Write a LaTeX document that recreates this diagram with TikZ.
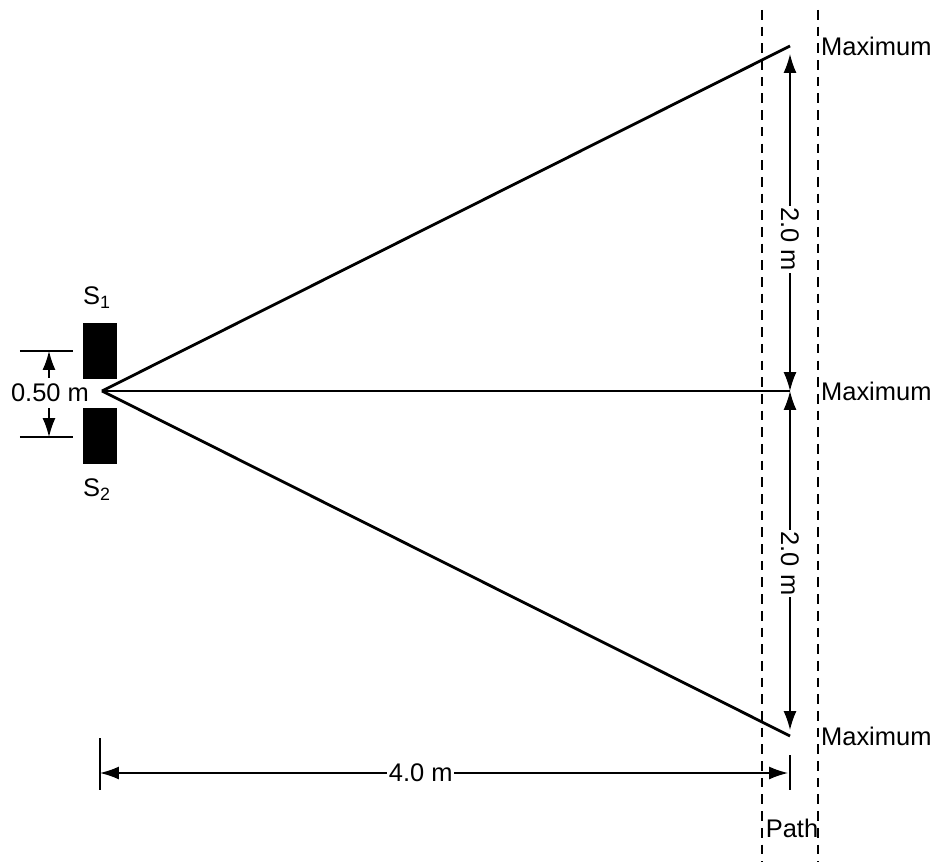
\documentclass[tikz,border=0pt]{standalone}
\usepackage{fontspec}
\setmainfont{Liberation Sans}
\usepackage{tikz}
\tikzset{>=latex}
\usetikzlibrary{arrows.meta}
\tikzset{>={Latex[length=3.8mm,width=2.6mm]}}
\tikzset{ray/.style={line width=1.6pt}}
\tikzset{dim/.style={line width=0.8pt}}
\tikzset{pathline/.style={line width=1.1pt, dash pattern=on 5.5pt off 4pt}}
\tikzset{dimlabel/.style={fill=white, inner sep=1pt}}
\tikzset{maxlabel/.style={anchor=west, inner sep=1pt}}
\def\rescale{0.02}
\def\screenx{688}
\def\fringey{345}
\def\slitwidth{34}
\def\pathleft{660}
\def\pathright{716}

\begin{document}
\begin{tikzpicture}[x=\rescale cm, y=\rescale cm, font=\fontsize{14.5}{17}\selectfont]

\useasboundingbox (-102, 391) rectangle (834, -471);

% Slits

\coordinate[](slits) at (0, 0) {};
\fill (-19, 12) rectangle (-19 + \slitwidth, 68);
\fill (-19, -17) rectangle (-19 + \slitwidth, -73);

\node[] (label_s_one) at (-5, 93) {S\textsubscript{1}};
\node[] (label_s_two) at (-5, -99) {S\textsubscript{2}};

% Slit separation

\coordinate[](sep_top_left) at (-82, 40) {};
\coordinate[](sep_top_right) at (-29, 40) {};
\coordinate[](sep_bottom_left) at (-82, -46) {};
\coordinate[](sep_bottom_right) at (-29, -46) {};
\coordinate[](sep_top) at (-53, 40) {};
\coordinate[](sep_bottom) at (-53, -46) {};

\draw[dim] (sep_top_left) -- (sep_top_right);
\draw[dim] (sep_bottom_left) -- (sep_bottom_right);

\node[] (label_sep) at (-52, -2) {0.50 m};
\draw[dim, ->] (label_sep.north -| sep_top) -- (sep_top);
\draw[dim, ->] (label_sep.south -| sep_bottom) -- (sep_bottom);

% Rays to the maxima

\coordinate[](max_top) at (\screenx, \fringey) {};
\coordinate[](max_mid) at (\screenx, 0) {};
\coordinate[](max_bottom) at (\screenx, -\fringey) {};

\draw[ray] (slits) -- (max_top);
\draw[ray] (slits) -- (max_mid);
\draw[ray] (slits) -- (max_bottom);

\node[maxlabel] (label_max_top) at (717, \fringey) {Maximum};
\node[maxlabel] (label_max_mid) at (717, 0) {Maximum};
\node[maxlabel] (label_max_bottom) at (717, -\fringey) {Maximum};

% Fringe spacing

\draw[dim, <->, shorten >=8 * \rescale cm] (max_mid) -- (max_top)
    node[pos=0.44, dimlabel, rotate=-90] (label_upper) {2.0 m};
\draw[dim, <->, shorten >=6 * \rescale cm] (max_mid) -- (max_bottom)
    node[pos=0.5, dimlabel, rotate=-90] (label_lower) {2.0 m};

% Path of the detector

\coordinate[](path_left_top) at (\pathleft, 381) {};
\coordinate[](path_left_bottom) at (\pathleft, -471) {};
\coordinate[](path_right_top) at (\pathright, 381) {};
\coordinate[](path_right_bottom) at (\pathright, -471) {};

\draw[pathline] (path_left_top) -- (path_left_bottom);
\draw[pathline] (path_right_top) -- (path_right_bottom);

\node[] (label_path) at (\screenx + 2, -437) {Path};

% Distance to the path

\coordinate[](dist_left_top) at (-2, -347) {};
\coordinate[](dist_left_bottom) at (-2, -399) {};
\coordinate[](dist_right_top) at (\screenx, -364) {};
\coordinate[](dist_right_bottom) at (\screenx, -399) {};
\coordinate[](dist_left) at (-2, -382) {};
\coordinate[](dist_right) at (\screenx, -382) {};

\draw[dim] (dist_left_top) -- (dist_left_bottom);
\draw[dim] (dist_right_top) -- (dist_right_bottom);
\draw[dim, <->, shorten >=2 * \rescale cm] (dist_left) -- (dist_right)
    node[pos=0.465, dimlabel] (label_dist) {4.0 m};

\end{tikzpicture}
\end{document}
